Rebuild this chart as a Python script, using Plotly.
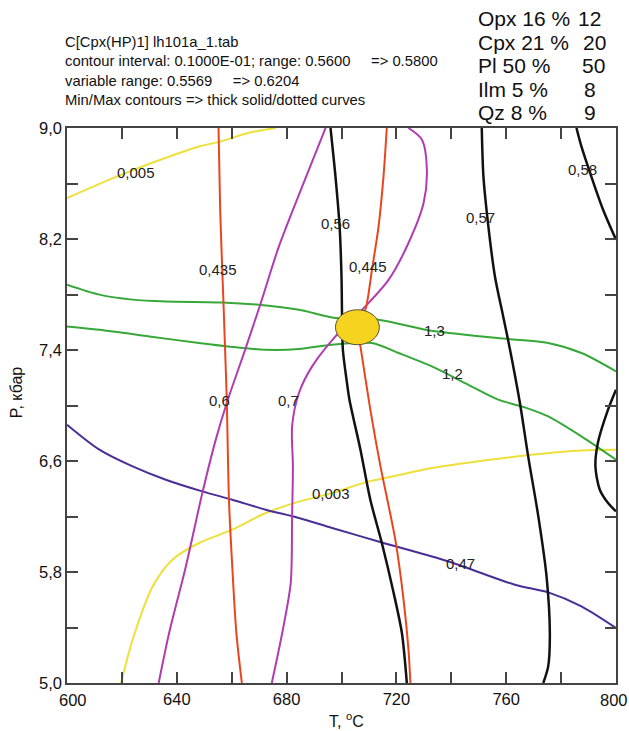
import plotly.graph_objects as go

# ---------------- data (T in °C, P in kbar) ----------------
# yellow 0,005
y005_T = [600.0, 618.3, 632.5, 648.1, 655.4, 666.3, 676.1]
y005_P = [8.495, 8.651, 8.760, 8.867, 8.900, 8.966, 9.000]
# yellow 0,003
y003_T = [619.7, 623.9, 631.2, 638.4, 648.1, 660.2, 672.4, 684.5, 696.6, 708.7, 716.0, 732.9, 751.1, 769.2, 787.4, 800.0]
y003_P = [5.000, 5.312, 5.696, 5.889, 6.009, 6.105, 6.225, 6.307, 6.369, 6.446, 6.477, 6.550, 6.602, 6.645, 6.676, 6.681]
# red 0,435
r435_T = [655.2, 655.8, 657.0, 657.6, 658.2, 659.0, 660.2, 661.7, 663.7]
r435_P = [9.000, 8.411, 7.739, 7.400, 7.042, 6.321, 5.840, 5.360, 5.000]
# red 0,445
r445_T = [716.5, 715.3, 713.5, 711.1, 708.7, 705.6, 706.9, 710.5, 714.2, 719.6, 722.6, 724.4, 725.1]
r445_P = [9.000, 8.651, 8.291, 7.979, 7.690, 7.570, 7.426, 6.970, 6.561, 6.033, 5.601, 5.241, 5.000]
# black 0,56
b56_T = [696.0, 697.8, 699.3, 700.0, 700.2, 700.5, 702.0, 702.9, 706.9, 710.5, 714.7, 719.0, 722.0, 723.8]
b56_P = [9.000, 8.651, 8.291, 7.930, 7.642, 7.402, 7.162, 7.042, 6.681, 6.321, 6.009, 5.649, 5.360, 5.000]
# black 0,57
b57_T = [751.1, 751.7, 753.5, 755.9, 758.9, 761.4, 765.0, 768.0, 771.7, 774.7, 775.9, 775.3, 773.5]
b57_P = [9.000, 8.651, 8.291, 7.930, 7.642, 7.402, 7.018, 6.633, 6.201, 5.768, 5.360, 5.120, 5.000]
# black 0,58
b58_T = [785.6, 787.4, 791.0, 795.3, 800.0]
b58_P = [9.000, 8.867, 8.651, 8.411, 8.195]
# black loop at right edge
bloop_T = [800.0, 797.1, 793.4, 792.5, 794.1, 797.1, 800.0]
bloop_P = [7.114, 6.970, 6.730, 6.561, 6.393, 6.297, 6.237]
# green 1,3
g13_T = [600.0, 611.8, 623.9, 636.0, 656.6, 669.9, 684.5, 697.8, 713.5, 730.5, 745.0, 760.8, 775.3, 787.4, 800.0]
g13_P = [7.871, 7.799, 7.763, 7.750, 7.743, 7.726, 7.690, 7.631, 7.618, 7.546, 7.510, 7.479, 7.450, 7.378, 7.246]
# green 1,2
g12_T = [600.0, 611.8, 630.0, 648.1, 660.2, 672.4, 684.5, 696.6, 711.1, 720.8, 732.9, 745.0, 757.1, 767.0, 775.3, 787.4, 800.0]
g12_P = [7.570, 7.546, 7.498, 7.450, 7.422, 7.402, 7.407, 7.438, 7.450, 7.378, 7.282, 7.162, 7.042, 6.985, 6.921, 6.777, 6.609]
# magenta 0,6
m06_T = [633.4, 637.2, 643.3, 649.3, 654.2, 658.2, 665.1, 670.6, 677.2, 685.7, 694.2]
m06_P = [5.000, 5.360, 5.840, 6.369, 6.754, 7.018, 7.414, 7.739, 8.147, 8.579, 9.000]
# magenta 0,7
m07_T = [674.6, 678.4, 681.5, 682.0, 682.3, 682.0, 684.5, 689.3, 697.8, 708.7, 717.2, 724.4, 729.9, 731.1, 729.3, 724.4]
m07_P = [5.000, 5.360, 5.721, 6.201, 6.561, 6.849, 7.090, 7.282, 7.498, 7.714, 7.907, 8.171, 8.459, 8.699, 8.916, 9.000]
# indigo 0,47
i47_T = [600.0, 611.8, 623.9, 636.0, 649.3, 660.2, 672.4, 684.5, 696.6, 714.7, 739.0, 763.2, 775.3, 787.4, 800.0]
i47_P = [6.862, 6.682, 6.561, 6.465, 6.381, 6.321, 6.249, 6.189, 6.117, 6.013, 5.876, 5.708, 5.653, 5.552, 5.396]

# curve labels
lab_text = ["0,005", "0,435", "0,6", "0,7", "0,56", "0,445", "0,57", "0,58", "1,3", "1,2", "0,003", "0,47"]
lab_T = [625.3, 655.1, 655.7, 680.8, 697.8, 709.6, 750.5, 787.9, 733.9, 740.3, 696.0, 743.3]
lab_P = [8.679, 7.979, 7.036, 7.036, 8.315, 8.003, 8.357, 8.701, 7.541, 7.234, 6.363, 5.858]

# point (ellipse) centre
pt_T, pt_P = 705.8, 7.564

# axis ticks
x_ticks = [600, 620, 640, 660, 680, 700, 720, 740, 760, 780, 800]
x_ticktext = ["600", "", "640", "", "680", "", "720", "", "760", "", "800"]
y_ticks = [5.0, 5.4, 5.8, 6.2, 6.6, 7.0, 7.4, 7.8, 8.2, 8.6, 9.0]
y_ticktext = ["5,0", "", "5,8", "", "6,6", "", "7,4", "", "8,2", "", "9,0"]

header_lines = [
    "C[Cpx(HP)1] lh101a_1.tab",
    "contour interval: 0.1000E-01; range: 0.5600\u00a0\u00a0\u00a0\u00a0\u00a0=> 0.5800",
    "variable range: 0.5569\u00a0\u00a0\u00a0\u00a0\u00a0=> 0.6204",
    "Min/Max contours => thick solid/dotted curves",
]
table_names = ["Opx 16 %", "Cpx 21 %", "Pl 50 %", "Ilm 5 %", "Qz 8 %"]
table_vals = ["12", "20", "50", "8", "9"]

# ---------------- figure ----------------
YEL = "#EEE03A"
RED = "#E8461E"
MAG = "#B03CB4"
BLK = "#111111"
GRN = "#36A838"
IND = "#4A2D96"

curves = [
    (y005_T, y005_P, YEL, 2),
    (y003_T, y003_P, YEL, 2),
    (i47_T, i47_P, IND, 2),
    (g13_T, g13_P, GRN, 2),
    (g12_T, g12_P, GRN, 2),
    (m06_T, m06_P, MAG, 2),
    (m07_T, m07_P, MAG, 2),
    (b56_T, b56_P, BLK, 2.5),
    (b57_T, b57_P, BLK, 2.5),
    (b58_T, b58_P, BLK, 2.5),
    (bloop_T, bloop_P, BLK, 2.5),
    (r435_T, r435_P, RED, 2),
    (r445_T, r445_P, RED, 2),
]

fig = go.Figure()
for T, P, c, w in curves:
    fig.add_trace(go.Scatter(x=T, y=P, mode="lines",
                             line=dict(color=c, width=w, shape="spline", smoothing=0.8),
                             hoverinfo="skip", showlegend=False))

# ellipse marking the estimated P-T point
fig.add_shape(type="circle", xref="x", yref="y",
              x0=pt_T - 8.0, x1=pt_T + 8.0, y0=pt_P - 0.126, y1=pt_P + 0.126,
              fillcolor="#F6D31E", line=dict(color="#5a5030", width=1), layer="above")

FONT = "Liberation Sans, Arial, sans-serif"
for t, x, y in zip(lab_text, lab_T, lab_P):
    fig.add_annotation(x=x, y=y, text=t, showarrow=False, xanchor="center", yanchor="middle",
                       font=dict(family=FONT, size=15, color="#222222"))

L, R, TOP, BOT = 67, 618, 128, 683
def px(xp):
    return (xp - L) / (R - L)
def py(yp):
    return (BOT - yp) / (BOT - TOP)

for i, s in enumerate(header_lines):
    fig.add_annotation(xref="paper", yref="paper", x=px(63), y=py(42 + 19.3 * i), text=s,
                       showarrow=False, xanchor="left", yanchor="middle",
                       font=dict(family=FONT, size=14.8, color="#111111"))

val_x = [591.7, 596, 595.3, 591.7, 591.7]
for i, (nm, v) in enumerate(zip(table_names, table_vals)):
    yy = 18.7 + 23.5 * i
    fig.add_annotation(xref="paper", yref="paper", x=px(477), y=py(yy), text=nm,
                       showarrow=False, xanchor="left", yanchor="middle",
                       font=dict(family=FONT, size=21, color="#111111"))
    fig.add_annotation(xref="paper", yref="paper", x=px(val_x[i]), y=py(yy), text=v,
                       showarrow=False, xanchor="center", yanchor="middle",
                       font=dict(family=FONT, size=21, color="#111111"))

# axis titles
fig.add_annotation(xref="paper", yref="paper", x=px(347.5), y=py(720), text="T, <sup>o</sup>C",
                   showarrow=False, xanchor="center", yanchor="middle",
                   font=dict(family=FONT, size=16, color="#111111"))
fig.add_annotation(xref="paper", yref="paper", x=px(16), y=py(392), text="P, кбар", textangle=-90,
                   showarrow=False, xanchor="center", yanchor="middle",
                   font=dict(family=FONT, size=16, color="#111111"))

# edge x tick labels (nudged inward as in the reference)
axis_x_text = list(x_ticktext)
axis_x_text[0] = ""
axis_x_text[-1] = ""
for txt, cx in ((x_ticktext[0], 73.5), (x_ticktext[-1], 615.5)):
    fig.add_annotation(xref="paper", yref="paper", x=px(cx), y=py(700), text=txt,
                       showarrow=False, xanchor="center", yanchor="middle",
                       font=dict(family=FONT, size=16.5, color="#111111"))

axis_common = dict(showgrid=False, zeroline=False, showline=True, linecolor="#444444", linewidth=1.5,
                   mirror="allticks", ticks="inside", ticklen=11, tickwidth=1.5, tickcolor="#444444",
                   tickfont=dict(family=FONT, size=16.5, color="#111111"))

fig.update_xaxes(range=[600, 800], tickmode="array", tickvals=x_ticks, ticktext=axis_x_text, **axis_common)
fig.update_yaxes(range=[5, 9], tickmode="array", tickvals=y_ticks, ticktext=y_ticktext, **axis_common)

fig.update_layout(width=629, height=731, margin=dict(l=L, r=629 - R, t=TOP, b=731 - BOT),
                  paper_bgcolor="white", plot_bgcolor="white", showlegend=False)

fig.write_html("out.html")
